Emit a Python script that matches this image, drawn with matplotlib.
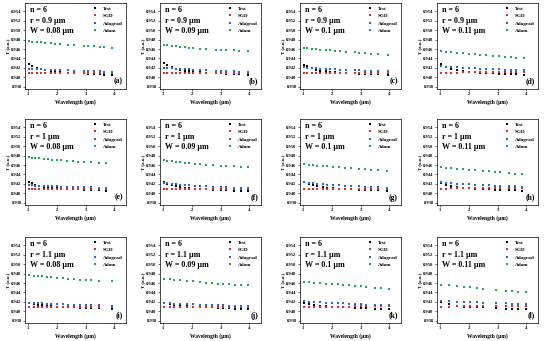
import matplotlib
matplotlib.use("Agg")
import matplotlib.pyplot as plt

plt.rcParams['font.family'] = ['Liberation Serif', 'DejaVu Serif']
plt.rcParams['font.weight'] = 'bold'

# panel settings
panel_tags = ['(a)', '(b)', '(c)', '(d)', '(e)', '(f)', '(g)', '(h)', '(i)', '(j)', '(k)', '(l)']
r_labels = ['0.9', '1', '1.1']
w_labels = ['0.08', '0.09', '0.1', '0.11']
series_names = ['Test', 'SGD', 'Adagrad', 'Adam']

# wavelengths (um) per panel
wavelength = [
    [1.05, 1.15, 1.3, 1.45, 1.6, 1.8, 1.95, 2.1, 2.4, 2.6, 2.95, 3.1, 3.3, 3.5, 3.65, 3.9],
    [1.05, 1.15, 1.3, 1.45, 1.6, 1.75, 1.9, 2.05, 2.3, 2.5, 2.85, 3.0, 3.2, 3.45, 3.65, 3.95],
    [1.05, 1.15, 1.3, 1.45, 1.6, 1.8, 1.95, 2.1, 2.3, 2.5, 2.8, 2.95, 3.15, 3.35, 3.6, 3.95],
    [1.05, 1.2, 1.4, 1.6, 1.8, 2.0, 2.2, 2.4, 2.6, 2.85, 3.05, 3.25, 3.45, 3.65, 3.9],
    [1.05, 1.15, 1.25, 1.4, 1.55, 1.7, 1.85, 2.0, 2.15, 2.35, 2.55, 2.75, 2.95, 3.2, 3.45, 3.7],
    [1.05, 1.15, 1.3, 1.45, 1.6, 1.75, 1.9, 2.1, 2.3, 2.5, 2.75, 3.0, 3.2, 3.45, 3.7, 3.95],
    [1.05, 1.2, 1.35, 1.5, 1.7, 1.85, 2.05, 2.25, 2.45, 2.65, 2.95, 3.15, 3.35, 3.6, 3.9],
    [1.05, 1.2, 1.4, 1.6, 1.8, 2.0, 2.2, 2.5, 2.7, 2.9, 3.1, 3.4, 3.6, 3.85],
    [1.05, 1.2, 1.35, 1.5, 1.65, 1.8, 2.0, 2.2, 2.4, 2.6, 2.8, 3.0, 3.2, 3.45, 3.9],
    [1.05, 1.25, 1.4, 1.6, 1.85, 2.05, 2.3, 2.5, 2.7, 2.9, 3.1, 3.3, 3.5, 3.7, 3.95],
    [1.05, 1.2, 1.4, 1.6, 1.8, 2.0, 2.2, 2.4, 2.6, 2.8, 3.0, 3.2, 3.5, 3.7, 4.0],
    [1.05, 1.3, 1.6, 1.85, 2.05, 2.3, 2.5, 2.95, 3.3, 3.5, 3.7, 4.0],
]

test = [
    [0.9428, 0.9424, 0.9420, 0.9417, 0.9415, 0.9413, 0.9412, 0.9411, 0.9410, 0.9409, 0.9408, 0.9407, 0.9406, 0.9406, 0.9405, 0.9404],
    [0.9430, 0.9426, 0.9421, 0.9418, 0.9416, 0.9414, 0.9413, 0.9412, 0.9411, 0.9410, 0.9409, 0.9408, 0.9407, 0.9407, 0.9406, 0.9405],
    [0.9427, 0.9423, 0.9419, 0.9416, 0.9414, 0.9413, 0.9412, 0.9411, 0.9410, 0.9409, 0.9408, 0.9407, 0.9407, 0.9406, 0.9406, 0.9405],
    [0.9428, 0.9422, 0.9418, 0.9415, 0.9413, 0.9412, 0.9411, 0.9410, 0.9409, 0.9408, 0.9407, 0.9407, 0.9406, 0.9406, 0.9405],
    [0.9424, 0.9421, 0.9418, 0.9416, 0.9414, 0.9413, 0.9412, 0.9411, 0.9410, 0.9409, 0.9408, 0.9408, 0.9407, 0.9406, 0.9406, 0.9405],
    [0.9423, 0.9420, 0.9417, 0.9415, 0.9413, 0.9412, 0.9411, 0.9410, 0.9409, 0.9408, 0.9407, 0.9407, 0.9406, 0.9405, 0.9405, 0.9404],
    [0.9425, 0.9420, 0.9417, 0.9415, 0.9413, 0.9412, 0.9411, 0.9410, 0.9409, 0.9408, 0.9407, 0.9407, 0.9406, 0.9406, 0.9405],
    [0.9421, 0.9418, 0.9415, 0.9413, 0.9412, 0.9411, 0.9410, 0.9409, 0.9408, 0.9407, 0.9407, 0.9406, 0.9406, 0.9405],
    [0.9418, 0.9416, 0.9414, 0.9413, 0.9412, 0.9411, 0.9410, 0.9409, 0.9409, 0.9408, 0.9407, 0.9407, 0.9406, 0.9406, 0.9404],
    [0.9418, 0.9415, 0.9413, 0.9412, 0.9411, 0.9410, 0.9409, 0.9408, 0.9408, 0.9407, 0.9407, 0.9406, 0.9405, 0.9405, 0.9404],
    [0.9418, 0.9416, 0.9414, 0.9412, 0.9411, 0.9410, 0.9409, 0.9409, 0.9408, 0.9407, 0.9407, 0.9406, 0.9405, 0.9405, 0.9404],
    [0.9420, 0.9415, 0.9412, 0.9410, 0.9409, 0.9408, 0.9408, 0.9406, 0.9405, 0.9405, 0.9405, 0.9404],
]

sgd = [
    [0.9408, 0.9408, 0.9409, 0.9409, 0.9409, 0.9410, 0.9410, 0.9410, 0.9410, 0.9410, 0.9409, 0.9409, 0.9409, 0.9409, 0.9409, 0.9409],
    [0.9409, 0.9409, 0.9409, 0.9410, 0.9410, 0.9410, 0.9410, 0.9410, 0.9410, 0.9410, 0.9410, 0.9410, 0.9410, 0.9410, 0.9410, 0.9410],
    [0.9409, 0.9409, 0.9409, 0.9409, 0.9410, 0.9410, 0.9410, 0.9410, 0.9410, 0.9410, 0.9410, 0.9410, 0.9410, 0.9410, 0.9410, 0.9410],
    [0.9410, 0.9410, 0.9410, 0.9410, 0.9411, 0.9411, 0.9411, 0.9411, 0.9411, 0.9411, 0.9411, 0.9411, 0.9411, 0.9411, 0.9411],
    [0.9408, 0.9408, 0.9409, 0.9409, 0.9409, 0.9409, 0.9410, 0.9410, 0.9410, 0.9410, 0.9410, 0.9410, 0.9410, 0.9410, 0.9410, 0.9410],
    [0.9408, 0.9408, 0.9409, 0.9409, 0.9409, 0.9409, 0.9409, 0.9409, 0.9409, 0.9409, 0.9409, 0.9409, 0.9409, 0.9409, 0.9409, 0.9409],
    [0.9409, 0.9409, 0.9409, 0.9410, 0.9410, 0.9410, 0.9410, 0.9410, 0.9410, 0.9410, 0.9410, 0.9410, 0.9410, 0.9410, 0.9410],
    [0.9410, 0.9410, 0.9411, 0.9411, 0.9411, 0.9411, 0.9411, 0.9411, 0.9411, 0.9412, 0.9412, 0.9412, 0.9412, 0.9412],
    [0.9408, 0.9408, 0.9409, 0.9409, 0.9409, 0.9409, 0.9410, 0.9410, 0.9410, 0.9410, 0.9410, 0.9410, 0.9410, 0.9410, 0.9410],
    [0.9409, 0.9409, 0.9409, 0.9409, 0.9410, 0.9410, 0.9410, 0.9410, 0.9410, 0.9410, 0.9410, 0.9410, 0.9410, 0.9410, 0.9410],
    [0.9409, 0.9409, 0.9410, 0.9410, 0.9410, 0.9410, 0.9410, 0.9410, 0.9410, 0.9411, 0.9411, 0.9411, 0.9411, 0.9411, 0.9411],
    [0.9410, 0.9410, 0.9411, 0.9411, 0.9411, 0.9411, 0.9411, 0.9411, 0.9412, 0.9412, 0.9412, 0.9412],
]

adagrad = [
    [0.9418, 0.9418, 0.9417, 0.9417, 0.9416, 0.9416, 0.9415, 0.9415, 0.9415, 0.9414, 0.9414, 0.9413, 0.9413, 0.9413, 0.9412, 0.9412],
    [0.9420, 0.9419, 0.9419, 0.9418, 0.9418, 0.9417, 0.9417, 0.9416, 0.9416, 0.9415, 0.9414, 0.9414, 0.9413, 0.9413, 0.9412, 0.9412],
    [0.9421, 0.9420, 0.9420, 0.9419, 0.9418, 0.9418, 0.9417, 0.9417, 0.9416, 0.9416, 0.9415, 0.9415, 0.9414, 0.9414, 0.9413, 0.9413],
    [0.9423, 0.9422, 0.9421, 0.9421, 0.9420, 0.9419, 0.9419, 0.9418, 0.9418, 0.9417, 0.9417, 0.9416, 0.9416, 0.9415, 0.9415],
    [0.9417, 0.9417, 0.9416, 0.9416, 0.9416, 0.9415, 0.9415, 0.9415, 0.9414, 0.9414, 0.9414, 0.9413, 0.9413, 0.9413, 0.9412, 0.9412],
    [0.9422, 0.9421, 0.9420, 0.9419, 0.9418, 0.9417, 0.9417, 0.9416, 0.9415, 0.9415, 0.9414, 0.9413, 0.9413, 0.9412, 0.9412, 0.9411],
    [0.9424, 0.9422, 0.9421, 0.9420, 0.9419, 0.9418, 0.9417, 0.9417, 0.9416, 0.9415, 0.9415, 0.9414, 0.9413, 0.9413, 0.9412],
    [0.9423, 0.9422, 0.9421, 0.9420, 0.9420, 0.9419, 0.9418, 0.9418, 0.9417, 0.9416, 0.9416, 0.9415, 0.9415, 0.9414],
    [0.9418, 0.9418, 0.9417, 0.9417, 0.9416, 0.9416, 0.9415, 0.9415, 0.9414, 0.9414, 0.9414, 0.9413, 0.9413, 0.9413, 0.9412],
    [0.9417, 0.9417, 0.9416, 0.9416, 0.9415, 0.9415, 0.9414, 0.9414, 0.9414, 0.9413, 0.9413, 0.9412, 0.9412, 0.9412, 0.9411],
    [0.9421, 0.9420, 0.9420, 0.9419, 0.9418, 0.9418, 0.9417, 0.9417, 0.9416, 0.9415, 0.9415, 0.9414, 0.9414, 0.9413, 0.9413],
    [0.9421, 0.9421, 0.9420, 0.9420, 0.9419, 0.9419, 0.9418, 0.9417, 0.9417, 0.9416, 0.9416, 0.9415],
]

adam = [
    [0.9477, 0.9476, 0.9475, 0.9474, 0.9473, 0.9472, 0.9471, 0.9470, 0.9469, 0.9468, 0.9467, 0.9466, 0.9466, 0.9465, 0.9464, 0.9463],
    [0.9469, 0.9468, 0.9467, 0.9466, 0.9465, 0.9464, 0.9463, 0.9462, 0.9461, 0.9460, 0.9459, 0.9458, 0.9458, 0.9457, 0.9456, 0.9455],
    [0.9463, 0.9462, 0.9461, 0.9460, 0.9459, 0.9458, 0.9457, 0.9456, 0.9455, 0.9454, 0.9453, 0.9452, 0.9451, 0.9450, 0.9449, 0.9448],
    [0.9455, 0.9454, 0.9453, 0.9452, 0.9451, 0.9450, 0.9449, 0.9448, 0.9447, 0.9446, 0.9445, 0.9444, 0.9443, 0.9442, 0.9441],
    [0.9477, 0.9476, 0.9475, 0.9474, 0.9473, 0.9472, 0.9471, 0.9471, 0.9470, 0.9469, 0.9468, 0.9467, 0.9467, 0.9466, 0.9465, 0.9465],
    [0.9470, 0.9469, 0.9468, 0.9467, 0.9466, 0.9465, 0.9464, 0.9463, 0.9462, 0.9461, 0.9460, 0.9459, 0.9458, 0.9457, 0.9456, 0.9455],
    [0.9462, 0.9461, 0.9460, 0.9459, 0.9458, 0.9457, 0.9456, 0.9455, 0.9454, 0.9453, 0.9452, 0.9451, 0.9450, 0.9449, 0.9447],
    [0.9455, 0.9454, 0.9453, 0.9452, 0.9451, 0.9450, 0.9449, 0.9448, 0.9447, 0.9446, 0.9445, 0.9443, 0.9442, 0.9440],
    [0.9477, 0.9476, 0.9475, 0.9474, 0.9473, 0.9472, 0.9471, 0.9470, 0.9469, 0.9468, 0.9467, 0.9467, 0.9466, 0.9465, 0.9464],
    [0.9469, 0.9468, 0.9467, 0.9466, 0.9465, 0.9464, 0.9462, 0.9461, 0.9460, 0.9459, 0.9458, 0.9457, 0.9456, 0.9456, 0.9455],
    [0.9463, 0.9462, 0.9461, 0.9460, 0.9459, 0.9458, 0.9457, 0.9456, 0.9455, 0.9454, 0.9453, 0.9452, 0.9450, 0.9449, 0.9448],
    [0.9456, 0.9455, 0.9454, 0.9452, 0.9451, 0.9450, 0.9448, 0.9446, 0.9444, 0.9443, 0.9442, 0.9441],
]

colors = ['black', '#e3262b', '#2466d8', '#1fa65a']
# small upright rectangle, like the short dashes in the original
dash = [(-0.6, -0.9), (0.6, -0.9), (0.6, 0.9), (-0.6, 0.9)]

fig = plt.figure(figsize=(5.5, 3.41), dpi=100)
W, H = 550.0, 341.0
col_left = [25, 160, 300, 437]
row_top = [3, 119, 237]
ax_w, ax_h = 101, 86

for idx in range(12):
    row, col = idx // 4, idx % 4
    ax = fig.add_axes([col_left[col] / W, 1 - (row_top[row] + ax_h) / H, ax_w / W, ax_h / H])
    data = [test[idx], sgd[idx], adagrad[idx], adam[idx]]
    for name, vals, c in zip(series_names, data, colors):
        ax.plot(wavelength[idx], vals, ls='none', marker=dash, ms=1.7, mew=0, color=c, label=name)
    ax.set_xlim(0.9, 4.4)
    ax.set_ylim(0.9375, 0.9558)
    ax.set_xticks([1, 2, 3, 4])
    ax.set_yticks([0.938, 0.940, 0.942, 0.944, 0.946, 0.948, 0.950, 0.952, 0.954])
    ax.set_yticklabels(['%.3f' % v for v in ax.get_yticks()])
    ax.tick_params(labelsize=3.3, length=1.5, width=0.4, pad=1)
    for s in ax.spines.values():
        s.set_linewidth(0.5)
    ax.set_xlabel('Wavelength (μm)', fontsize=4, fontweight='bold', labelpad=2)
    ax.set_ylabel('T (a.u.)', fontsize=3.5, fontweight='bold', labelpad=1)
    ax.text(0.05, 0.96, 'n = 6\nr = %s μm\nW = %s μm' % (r_labels[row], w_labels[col]),
            transform=ax.transAxes, ha='left', va='top', fontsize=5.8, fontweight='bold',
            linespacing=1.35)
    ax.text(0.97, 0.04, panel_tags[idx], transform=ax.transAxes, ha='right', va='bottom',
            fontsize=5.5, fontweight='bold')
    leg = ax.legend(loc='upper right', frameon=False, fontsize=3.7, markerscale=1.0,
                    handlelength=0.6, handletextpad=1.2, labelspacing=0.55,
                    borderaxespad=0.2)
    for t in leg.get_texts():
        t.set_fontweight('bold')

fig.savefig('out.png', dpi=100)
